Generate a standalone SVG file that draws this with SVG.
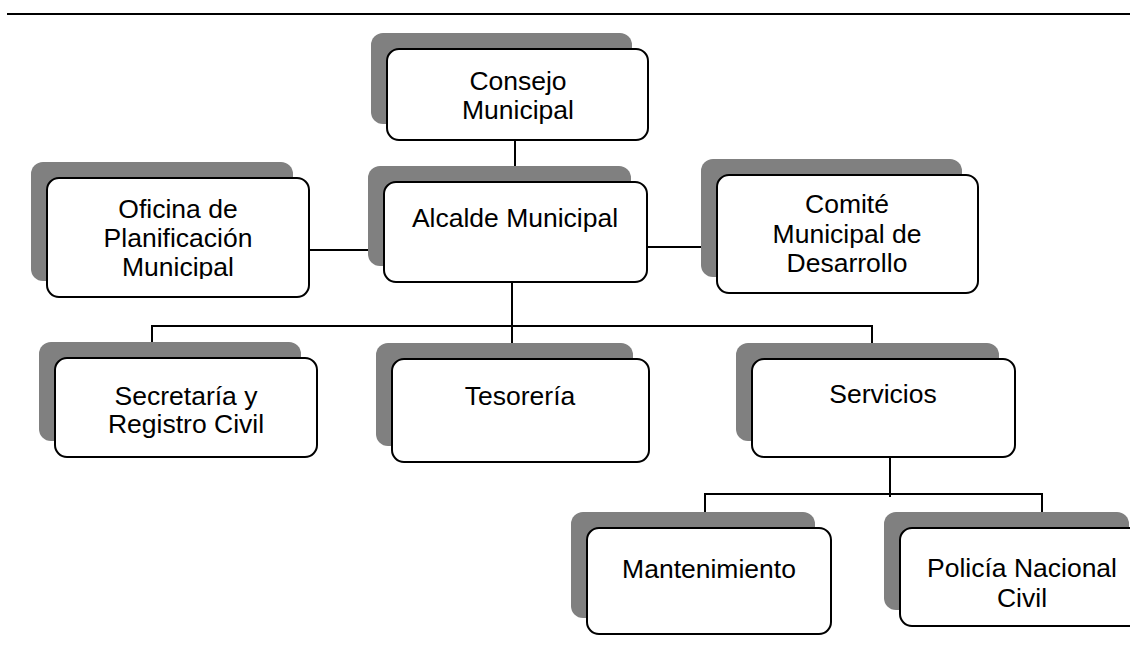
<svg xmlns="http://www.w3.org/2000/svg" width="1130" height="652" viewBox="0 0 1130 652">
<style>
.sh{fill:#808080;stroke:none}
.bx{fill:#fff;stroke:#000;stroke-width:2}
.t{font-family:"Liberation Sans",Arial,sans-serif;font-size:26.5px;fill:#000;text-anchor:middle}
.c{stroke:#000;stroke-width:2;fill:none}
</style>
<defs>
<clipPath id="clipOf"><rect x="40" y="170" width="280" height="109"/></clipPath>
</defs>
<rect width="1130" height="652" fill="#fff"/>
<line x1="7" y1="14" x2="1130" y2="14" stroke="#000" stroke-width="2"/>
<g id="connectors">
<line class="c" x1="515" y1="140" x2="515" y2="166"/>
<line class="c" x1="309" y1="250" x2="368" y2="250"/>
<line class="c" x1="647" y1="247" x2="702" y2="247"/>
<line class="c" x1="512" y1="282" x2="512" y2="326"/>
<polyline class="c" points="152,343 152,326 872,326 872,343"/>
<line class="c" x1="512" y1="326" x2="512" y2="343"/>
<line class="c" x1="890" y1="457" x2="890" y2="497"/>
<polyline class="c" points="705,512 705,494 1042,494 1042,512"/>
</g>
<g id="consejo">
<rect class="sh" x="371" y="33" width="261" height="91" rx="12"/>
<rect class="bx" x="387" y="49" width="261" height="91" rx="12"/>
<text class="t" x="518" y="90">Consejo</text>
<text class="t" x="518" y="119">Municipal</text>
</g>
<g id="oficina">
<rect class="sh" x="31" y="162" width="262" height="119" rx="12"/>
<rect class="bx" x="47" y="178" width="262" height="119" rx="12"/>
<g clip-path="url(#clipOf)">
<text class="t" x="178" y="218">Oficina de</text>
<text class="t" x="178" y="247">Planificación</text>
<text class="t" x="178" y="276">Municipal</text>
</g>
</g>
<g id="alcalde">
<rect class="sh" x="368" y="166" width="263" height="100" rx="12"/>
<rect class="bx" x="384" y="182" width="263" height="100" rx="12"/>
<text class="t" x="515" y="227">Alcalde Municipal</text>
</g>
<g id="comite">
<rect class="sh" x="701" y="159" width="261" height="118" rx="12"/>
<rect class="bx" x="717" y="175" width="261" height="118" rx="12"/>
<text class="t" x="847" y="213">Comité</text>
<text class="t" x="847" y="243">Municipal de</text>
<text class="t" x="847" y="272">Desarrollo</text>
</g>
<g id="secretaria">
<rect class="sh" x="39" y="342" width="262" height="99" rx="12"/>
<rect class="bx" x="55" y="358" width="262" height="99" rx="12"/>
<text class="t" x="186" y="405">Secretaría y</text>
<text class="t" x="186" y="433">Registro Civil</text>
</g>
<g id="tesoreria">
<rect class="sh" x="376" y="343" width="257" height="103" rx="12"/>
<rect class="bx" x="392" y="359" width="257" height="103" rx="12"/>
<text class="t" x="520" y="405">Tesorería</text>
</g>
<g id="servicios">
<rect class="sh" x="736" y="343" width="263" height="98" rx="12"/>
<rect class="bx" x="752" y="359" width="263" height="98" rx="12"/>
<text class="t" x="883" y="403">Servicios</text>
</g>
<g id="mantenimiento">
<rect class="sh" x="571" y="512" width="244" height="106" rx="12"/>
<rect class="bx" x="587" y="528" width="244" height="106" rx="12"/>
<text class="t" x="709" y="578">Mantenimiento</text>
</g>
<g id="policia">
<rect class="sh" x="884" y="512" width="245" height="98" rx="12"/>
<rect class="bx" x="900" y="528" width="245" height="98" rx="12"/>
<text class="t" x="1022" y="577">Policía Nacional</text>
<text class="t" x="1022" y="607">Civil</text>
</g>
</svg>
